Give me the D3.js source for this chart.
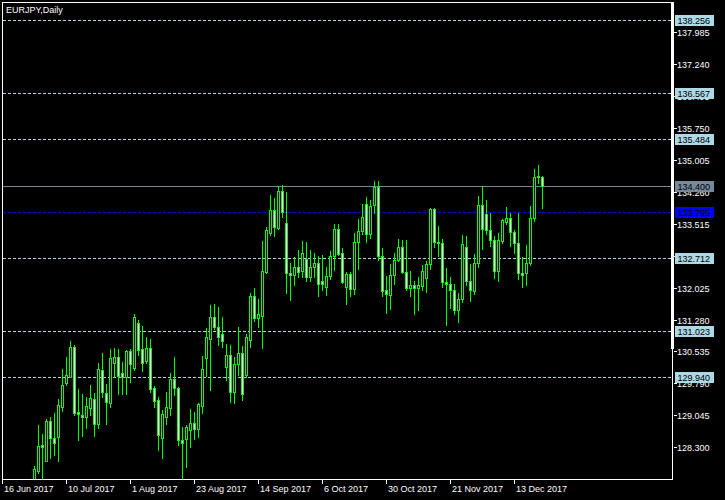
<!DOCTYPE html>
<html><head><meta charset="utf-8">
<script src="https://cdn.jsdelivr.net/npm/d3@7"></script>
<style>
body{margin:0;background:#000;}
svg{display:block;}
text{font-family:"Liberation Sans",Arial,sans-serif;font-size:9px;}
</style>
</head><body>
<svg id="chart" width="725" height="500"></svg>
<script>
// ---- DATA ----
const chartTitle = "EURJPY,Daily";
const calendarStart = "2017-06-16";   // first trading day on the time axis
const calendarEnd = "2017-12-22";     // last trading day
const dataStart = "2017-06-28";       // first candle with visible data

const openP = [
127.20,127.75,128.35,127.99,128.91,128.51,128.53,129.25,129.81,129.95,
130.64,129.12,129.05,129.00,129.21,129.43,128.84,130.10,129.56,129.34,
130.27,130.40,130.03,129.95,130.55,130.16,131.19,130.59,130.32,130.61,
129.68,129.40,128.51,129.00,129.22,129.89,129.68,128.47,128.50,128.70,
128.86,128.73,129.26,130.38,130.83,131.33,131.10,130.94,130.18,130.45,
129.60,130.24,130.49,129.99,130.80,131.83,131.31,131.37,132.40,133.30,
133.83,133.41,134.28,133.52,132.36,132.32,132.50,132.41,132.69,132.28,
132.51,132.59,132.18,132.03,132.30,132.77,133.38,132.82,132.05,132.34,
131.99,133.09,133.35,133.97,133.27,133.95,134.36,132.77,131.98,131.85,
132.33,132.67,132.98,132.38,132.01,132.08,132.02,132.06,132.24,132.57,
133.85,133.08,133.06,132.15,132.12,131.98,131.50,131.77,132.96,132.18,
131.95,132.59,133.95,133.73,133.37,133.13,132.42,133.12,133.56,133.64,
133.31,133.07,132.36,132.37,132.59,133.64,134.60,134.60];
const highP = [
127.86,128.82,128.61,128.96,129.00,129.09,129.43,130.12,130.41,130.78,
130.69,129.66,129.54,129.47,129.75,129.56,130.27,130.49,129.78,130.59,
130.61,130.59,130.30,130.57,130.59,131.41,131.27,131.13,130.88,130.82,
129.73,129.48,129.17,129.60,130.04,130.40,129.71,128.78,128.82,129.19,
129.12,129.34,130.43,131.08,131.62,131.65,131.58,131.33,130.71,130.69,
130.40,131.10,130.67,130.95,131.89,132.01,131.75,133.12,133.44,134.18,
134.11,134.39,134.42,134.25,132.59,132.74,132.90,133.11,133.08,132.90,
132.84,132.77,132.78,132.51,132.88,133.51,133.51,132.95,132.40,132.40,
133.29,133.62,133.97,134.13,134.07,134.51,134.51,132.94,132.29,132.57,
132.84,133.16,133.13,133.13,132.41,132.18,132.28,132.55,132.64,133.89,
133.89,133.46,133.16,132.49,132.28,132.11,131.89,133.25,133.23,132.57,
132.81,134.16,134.39,134.07,133.76,133.23,133.29,133.62,133.90,133.76,
133.37,133.76,132.73,133.02,133.92,134.79,134.88,134.62];
const lowP = [
127.00,127.71,127.45,127.97,128.04,128.12,127.99,129.15,129.75,129.93,
129.05,128.47,128.56,128.74,129.05,128.56,128.74,129.47,128.84,129.25,
129.93,129.54,129.55,129.54,129.83,130.10,130.45,130.09,130.26,129.60,
129.23,128.24,128.04,128.85,129.05,129.52,128.35,127.50,127.83,128.31,
128.49,128.53,129.11,129.96,129.64,131.07,130.69,130.65,129.87,129.36,
129.33,129.99,129.40,129.95,130.65,131.25,131.10,130.61,132.36,133.25,
133.23,133.38,133.68,131.91,131.74,132.08,132.28,132.28,132.19,132.19,
132.28,131.83,131.97,131.85,132.22,132.43,132.78,132.14,131.64,131.83,
131.88,132.46,133.27,133.09,133.17,133.76,132.67,131.83,131.44,131.53,
132.10,132.64,132.36,131.97,131.83,131.40,131.50,131.97,131.93,132.47,
132.96,132.75,132.05,131.15,131.56,131.41,131.23,131.70,132.08,131.72,
131.87,132.51,132.92,133.27,132.99,132.26,132.18,133.06,133.51,132.99,
132.82,132.22,132.05,132.08,132.55,133.58,134.46,133.89];
const closeP = [
127.79,128.33,128.31,128.91,128.51,128.41,129.28,129.75,129.98,130.64,
129.11,129.08,129.01,129.26,129.44,128.84,130.12,129.58,129.35,130.38,
130.40,129.96,129.95,130.55,130.24,131.33,130.57,130.26,130.61,129.65,
129.39,128.59,129.08,129.23,129.89,129.68,128.46,128.41,128.78,128.86,
128.73,129.31,130.12,130.87,131.33,131.10,130.88,130.79,130.45,129.60,
130.24,130.49,129.54,130.87,131.83,131.31,131.41,132.41,133.37,133.83,
133.44,134.28,133.78,132.36,132.32,132.50,132.40,132.82,132.28,132.51,
132.59,132.10,132.10,132.30,132.77,133.38,132.81,132.16,132.34,131.99,
133.09,133.35,133.68,133.27,133.93,134.36,132.77,131.95,131.87,132.33,
132.67,132.98,132.38,132.01,132.08,132.02,132.08,132.41,132.57,133.85,
133.08,133.06,132.15,132.12,131.97,131.50,131.77,133.03,132.18,131.97,
132.59,133.95,133.38,133.37,133.13,132.42,133.13,133.60,133.64,133.31,
133.07,132.36,132.32,132.59,133.64,134.61,134.63,134.40];

const timeTickDates  = ["2017-06-16","2017-07-10","2017-08-01","2017-08-23","2017-09-14","2017-10-06","2017-10-30","2017-11-21","2017-12-13"];
const timeTickLabels = ["16 Jun 2017","10 Jul 2017","1 Aug 2017","23 Aug 2017","14 Sep 2017","6 Oct 2017","30 Oct 2017","21 Nov 2017","13 Dec 2017"];
const priceTicks = [128.300,129.045,129.790,130.535,131.280,132.025,132.770,133.515,134.260,135.005,135.750,136.495,137.240,137.985];
const levelPrices = [138.256,136.567,135.484,132.712,131.023,129.940];
const bidPrice = 134.400;
const orderPrice = 133.795;

// ---- LAYOUT ----
const W = 725, H = 500;
const plot = {left:2, right:672, top:2, bottom:479};
const svg = d3.select("#chart");
svg.append("rect").attr("width",W).attr("height",H).attr("fill","#000");

const parse = d3.utcParse("%Y-%m-%d");
const fmt = d3.utcFormat("%Y-%m-%d");
const tradingDays = d3.utcDay.range(parse(calendarStart), d3.utcDay.offset(parse(calendarEnd),1))
  .filter(d => d.getUTCDay() !== 0 && d.getUTCDay() !== 6).map(fmt);
const dayIndex = new Map(tradingDays.map((d,i)=>[d,i]));
const startIdx = dayIndex.get(dataStart);

const x = d3.scaleLinear().domain([0,167.5]).range([plot.left, plot.right]);
const y = d3.scaleLinear().domain([127.561,138.685]).range([plot.bottom, plot.top]);

const candles = openP.map((o,k)=>({i:startIdx+k, o, h:highP[k], l:lowP[k], c:closeP[k]}));

svg.append("defs").append("clipPath").attr("id","clip")
  .append("rect").attr("x",plot.left+1).attr("y",plot.top+1)
  .attr("width",plot.right-plot.left-1).attr("height",plot.bottom-plot.top-1);

// level lines
const lines = svg.append("g").attr("shape-rendering","crispEdges");
function hline(p, color, dash){
  const yy = Math.round(y(p))+0.5;
  lines.append("line").attr("x1",plot.left+1).attr("x2",plot.right-1)
    .attr("y1",yy).attr("y2",yy).attr("stroke",color).attr("stroke-width",1)
    .attr("stroke-dasharray",dash||null);
}
levelPrices.forEach(p=>hline(p,"#add8e6","3,2"));
hline(orderPrice,"#0000e6","3,2");
hline(bidPrice,"#778899",null);

// candles
const cg = svg.append("g").attr("clip-path","url(#clip)").attr("shape-rendering","crispEdges");
candles.forEach(d=>{
  const cx = Math.round(x(d.i));
  const yh = Math.round(y(d.h)), yl = Math.round(y(d.l));
  cg.append("line").attr("x1",cx+0.5).attr("x2",cx+0.5).attr("y1",yh).attr("y2",yl+1)
    .attr("stroke","#00ff00");
  const t = Math.round(y(Math.max(d.o,d.c))), b = Math.round(y(Math.min(d.o,d.c)));
  cg.append("path")
    .attr("d",`M${cx-0.5},${t+0.5}H${cx+1.5}V${b+0.5}H${cx-0.5}Z`)
    .attr("fill", d.c < d.o ? "#ffffff" : "#000000")
    .attr("stroke","#00ff00").attr("stroke-width",1);
});

// frame
const fr = svg.append("g").attr("shape-rendering","crispEdges").attr("stroke","#fff");
fr.append("line").attr("x1",plot.left).attr("x2",plot.right+1).attr("y1",plot.top+0.5).attr("y2",plot.top+0.5);
fr.append("line").attr("x1",plot.left+0.5).attr("x2",plot.left+0.5).attr("y1",plot.top).attr("y2",plot.bottom+1);
fr.append("line").attr("x1",plot.left).attr("x2",plot.right+1).attr("y1",plot.bottom+0.5).attr("y2",plot.bottom+0.5);
fr.append("line").attr("x1",plot.right+0.5).attr("x2",plot.right+0.5).attr("y1",plot.top).attr("y2",plot.bottom+1);
svg.append("rect").attr("x",plot.right-1).attr("y",plot.top).attr("width",3).attr("height",349-plot.top).attr("fill","#fff");

// price axis
const pa = svg.append("g");
priceTicks.forEach(p=>{
  const yy = Math.round(y(p));
  pa.append("line").attr("x1",plot.right+2).attr("x2",plot.right+5).attr("y1",yy+0.5).attr("y2",yy+0.5)
    .attr("stroke","#fff").attr("shape-rendering","crispEdges");
  pa.append("text").attr("x",plot.right+5).attr("y",yy+3.5).attr("fill","#fff").text(p.toFixed(3));
});
function priceBox(p, bg){
  const yy = Math.round(y(p));
  pa.append("rect").attr("x",plot.right+3).attr("y",yy-5).attr("width",39).attr("height",11)
    .attr("fill",bg).attr("shape-rendering","crispEdges");
  pa.append("text").attr("x",plot.right+5.5).attr("y",yy+4).attr("fill","#000").text(p.toFixed(3));
}
levelPrices.forEach(p=>priceBox(p,"#add8e6"));
priceBox(bidPrice,"#778899");
priceBox(orderPrice,"#0000ff");

// time axis
const ta = svg.append("g");
timeTickDates.forEach((d,k)=>{
  const cx = Math.round(x(dayIndex.get(d)));
  ta.append("line").attr("x1",cx+0.5).attr("x2",cx+0.5).attr("y1",plot.bottom).attr("y2",plot.bottom+5)
    .attr("stroke","#fff").attr("shape-rendering","crispEdges");
  ta.append("text").attr("x",cx+2).attr("y",492).attr("fill","#fff").text(timeTickLabels[k]);
});

// title
svg.append("text").attr("x",6).attr("y",13).attr("fill","#fff").text(chartTitle);
</script>
</body></html>
